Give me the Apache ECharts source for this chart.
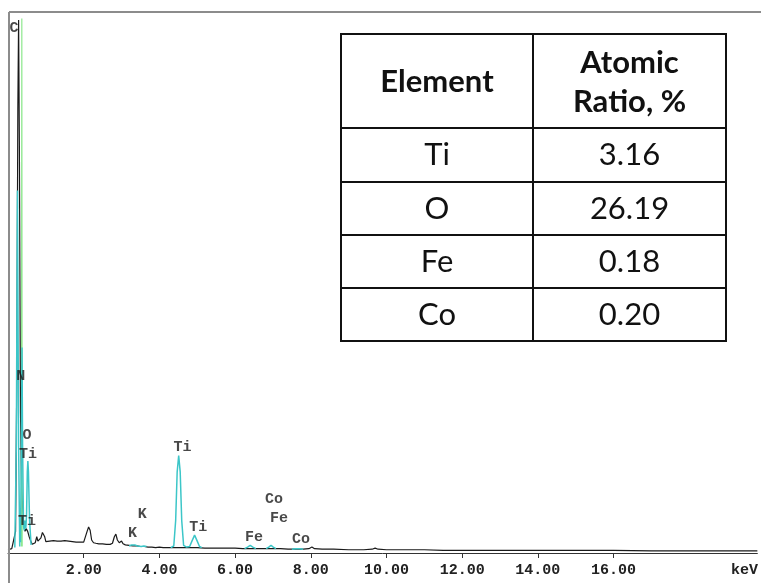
<!DOCTYPE html>
<html>
<head>
<meta charset="utf-8">
<script src="https://cdn.jsdelivr.net/npm/echarts@6/dist/echarts.min.js"></script>
<style>
  html, body { margin: 0; padding: 0; background: #fff; }
  #chart { width: 761px; height: 583px; }
</style>
</head>
<body>
<div id="chart"></div>
<script>
// Measured EDS spectrum (energy in keV, counts)
const spectrumEnergy = [
  0.00, 0.05, 0.10, 0.15, 0.20, 0.23, 0.26, 0.28, 0.30, 0.33, 0.36, 0.39, 0.42, 0.45, 0.48,
  0.52, 0.56, 0.60, 0.64, 0.68, 0.72, 0.76, 0.79, 0.83, 0.87, 0.91, 0.94, 0.97, 1.00, 1.05,
  1.10, 1.15, 1.20, 1.25, 1.30, 1.35, 1.40, 1.45, 1.50, 1.55, 1.60, 1.65, 1.70, 1.75, 1.80,
  1.85, 1.90, 1.95, 2.00, 2.05, 2.09, 2.13, 2.17, 2.21, 2.26, 2.32, 2.40, 2.50, 2.60, 2.70,
  2.76, 2.81, 2.85, 2.89, 2.94, 3.00, 3.04, 3.10, 3.20, 3.30, 3.40, 3.50, 3.60, 3.70, 3.80,
  3.90, 4.00, 4.10, 4.20, 4.30, 4.40, 4.50, 4.60, 4.70, 4.80, 4.90, 5.00, 5.20, 5.40, 5.60,
  5.80, 6.00, 6.20, 6.40, 6.60, 6.80, 7.00, 7.20, 7.40, 7.60, 7.80, 7.95, 8.03, 8.10, 8.30,
  8.60, 9.00, 9.40, 9.62, 9.70, 9.78, 10.00, 10.50, 11.00, 11.50, 12.00, 13.00, 14.00, 15.00, 16.00,
  17.00, 18.00, 19.00, 19.80
];
const spectrumCounts = [
  6, 7, 8, 11, 40, 300, 820, 985, 760, 260, 120, 80, 50, 40, 45,
  40, 30, 22, 16, 15, 19, 30, 22, 20, 28, 38, 41, 30, 21, 20,
  22, 21, 23, 21, 22, 20, 22, 21, 23, 21, 22, 20, 21, 22, 20,
  21, 20, 19, 20, 22, 40, 48, 42, 24, 19, 18, 17, 17, 16, 16,
  18, 30, 35, 24, 19, 22, 17, 15, 14, 13, 13, 12, 12, 11, 11,
  10, 11, 10, 10, 10, 10, 10, 10, 10, 10, 10, 10, 9, 9, 9,
  9, 9, 8, 8, 8, 8, 8, 8, 7, 7, 7, 8, 11, 8, 7,
  7, 6, 6, 7, 9, 7, 6, 6, 6, 5, 5, 5, 5, 5, 5,
  4, 4, 4, 4
];

// Fitted element peaks (null separates the individual peak profiles)
const fitEnergy = [
  0.18, 0.22, 0.25, 0.28, 0.31, null,
  0.33, 0.355, 0.37, 0.385, 0.41, 0.43, 0.45, 0.47, 0.49, 0.51, 0.525, 0.54, 0.57, 0.61, null,
  3.20, 3.27, 3.31, 3.35, 3.42, 3.52, 3.59, 3.66, null,
  4.30, 4.38, 4.43, 4.47, 4.51, 4.55, 4.59, 4.64, 4.72, 4.80, 4.86, 4.93, 5.00, 5.06, 5.12, null,
  6.25, 6.33, 6.40, 6.47, 6.55, null,
  6.82, 6.89, 6.95, 7.01, 7.08, null,
  7.50, 7.60, 7.70, 7.80
];
const fitCounts = [
  10, 200, 670, 200, 12, null,
  20, 200, 380, 200, 50, 42, 60, 45, 70, 150, 170, 150, 60, 15, null,
  13, 15, 17, 15, 13, 12, 13, 12, null,
  10, 13, 60, 150, 180, 150, 60, 14, 11, 12, 22, 33, 22, 12, 10, null,
  8, 11, 14, 11, 8, null,
  8, 11, 14, 11, 8, null,
  7, 8, 8, 7
];

// Reference line for the N window
const markerEnergy = [0.355, 0.365, 0.375];
const markerCounts = [12, 988, 12];

// Element identification labels (energy, counts at label)
const peakNames       = ['C', 'N', 'O', 'Ti', 'Ti', 'K', 'K', 'Ti', 'Ti', 'Co', 'Fe', 'Fe', 'Co'];
const peakLabelEnergy = [0.16, 0.34, 0.50, 0.53, 0.50, 3.55, 3.29, 4.61, 5.03, 7.03, 7.16, 6.50, 7.74];
const peakLabelCounts = [970, 327, 218, 183, 59, 72, 37, 196, 48, 100, 65, 30, 26];

// Energy axis ticks and unit
const energyTicks = [2, 4, 6, 8, 10, 12, 14, 16];
const unitPosition = 19.46;
const unitText = 'keV';

// Composition table
const tableHeader = ['Element', 'Atomic\nRatio, %'];
const tableElements = ['Ti', 'O', 'Fe', 'Co'];
const tableRatios = ['3.16', '26.19', '0.18', '0.20'];

function pairs(xs, ys) {
  return xs.map((x, i) => (x === null ? null : [x, ys[i]]));
}

const chart = echarts.init(document.getElementById('chart'), null, { renderer: 'canvas' });

// Table geometry
const T = { left: 341, top: 34, right: 726, bottom: 341, split: 533, rows: [128, 182, 235, 288] };
const tableGraphics = [];
const lineStyle = { stroke: '#111', lineWidth: 2 };
tableGraphics.push({
  type: 'rect', shape: { x: T.left, y: T.top, width: T.right - T.left, height: T.bottom - T.top },
  style: { fill: '#fff', stroke: '#111', lineWidth: 2 }, z: 100
});
tableGraphics.push({
  type: 'line', shape: { x1: T.split, y1: T.top, x2: T.split, y2: T.bottom }, style: lineStyle, z: 101
});
T.rows.forEach(y => {
  tableGraphics.push({ type: 'line', shape: { x1: T.left, y1: y, x2: T.right, y2: y }, style: lineStyle, z: 101 });
});
const c1 = (T.left + T.split) / 2, c2 = (T.split + T.right) / 2;
function cellText(text, x, y, bold) {
  return {
    type: 'text', x: x, y: y, z: 102,
    style: {
      text: text, fill: '#111',
      font: (bold ? 'bold 31px' : '31px') + ' Lato',
      lineHeight: 39,
      align: 'center', verticalAlign: 'middle',
      textAlign: 'center', textVerticalAlign: 'middle'
    }
  };
}
tableGraphics.push(cellText(tableHeader[0], c1, (T.top + T.rows[0]) / 2 + 1, true));
tableGraphics.push(cellText(tableHeader[1], c2, (T.top + T.rows[0]) / 2 + 1, true));
const rowEdges = T.rows.concat([T.bottom]);
tableElements.forEach((el, i) => {
  const yc = (rowEdges[i] + rowEdges[i + 1]) / 2;
  tableGraphics.push(cellText(el, c1, yc, false));
  tableGraphics.push(cellText(tableRatios[i], c2, yc, false));
});

// Frame lines (top and left)
const frame = [
  { type: 'line', shape: { x1: 9, y1: 12, x2: 761, y2: 12 }, style: { stroke: '#8c8c8c', lineWidth: 2 }, z: 50 },
  { type: 'line', shape: { x1: 9, y1: 12, x2: 9, y2: 583 }, style: { stroke: '#8c8c8c', lineWidth: 2 }, z: 50 }
];

const monoFont = '"Liberation Mono", "Courier New", monospace';

chart.setOption({
  animation: false,
  backgroundColor: '#fff',
  grid: { left: 8, right: 0, top: 12, bottom: 30 },
  xAxis: {
    type: 'value', min: 0, max: 19.8,
    splitLine: { show: false },
    axisLine: { show: true, lineStyle: { color: '#333', width: 1 } },
    axisTick: { show: true, customValues: energyTicks, length: 5, lineStyle: { color: '#333' } },
    axisLabel: {
      show: true,
      customValues: energyTicks.concat([unitPosition]),
      formatter: v => (Math.abs(v - unitPosition) < 1e-6 ? unitText : v.toFixed(2)),
      fontFamily: monoFont, fontSize: 15, fontWeight: 'bold', color: '#222', margin: 10
    }
  },
  yAxis: { type: 'value', min: 0, max: 1000, show: false, splitLine: { show: false } },
  series: [
    {
      name: 'Spectrum', type: 'line', data: pairs(spectrumEnergy, spectrumCounts),
      showSymbol: false, lineStyle: { color: '#1a1a1a', width: 1.2 }, z: 3
    },
    {
      name: 'Marker', type: 'line', data: pairs(markerEnergy, markerCounts),
      showSymbol: false, lineStyle: { color: '#8fe88f', width: 1.2 }, z: 4
    },
    {
      name: 'Peaks', type: 'line', data: pairs(fitEnergy, fitCounts), connectNulls: false,
      showSymbol: false, lineStyle: { color: '#3cc6c8', width: 1.5 }, z: 5
    },
    {
      name: 'Labels', type: 'scatter', symbolSize: 0, z: 6,
      data: peakNames.map((n, i) => [peakLabelEnergy[i], peakLabelCounts[i], n]),
      label: {
        show: true, position: 'inside', formatter: p => p.data[2],
        fontFamily: monoFont, fontSize: 15, fontWeight: 'bold', color: '#1a1a1a'
      }
    }
  ],
  graphic: frame.concat(tableGraphics)
});
</script>
</body>
</html>
